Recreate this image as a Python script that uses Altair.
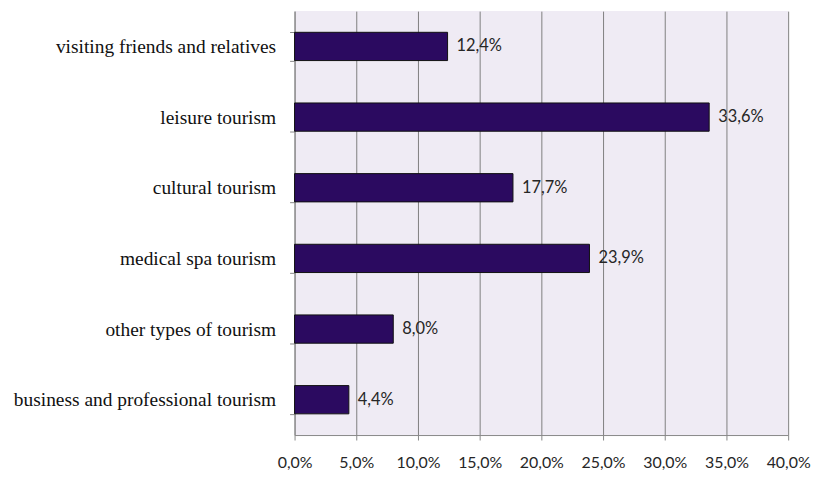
import altair as alt
import pandas as pd

categories = [
    "visiting friends and relatives",
    "leisure tourism",
    "cultural tourism",
    "medical spa tourism",
    "other types of tourism",
    "business and professional tourism",
]
values = [0.124, 0.336, 0.177, 0.239, 0.080, 0.044]
labels = ["12,4%", "33,6%", "17,7%", "23,9%", "8,0%", "4,4%"]

df = pd.DataFrame({"category": categories, "value": values, "label": labels})

x = alt.X(
    "value:Q",
    scale=alt.Scale(domain=[0, 0.4], nice=False),
    axis=alt.Axis(
        title=None,
        values=[0, 0.05, 0.1, 0.15, 0.2, 0.25, 0.3, 0.35, 0.4],
        labelExpr="replace(format(datum.value, '.1%'), '.', ',')",
        labelFont="Lato",
        labelFontSize=16,
        labelColor="#262626",
        labelPadding=15,
        labelOverlap=False,
        labelFlush=False,
        labelBound=False,
        tickSize=5,
        tickColor="#888888",
        domainColor="#888888",
        grid=True,
        gridColor="#7f7f7f",
        gridWidth=1,
    ),
)
y = alt.Y(
    "category:N",
    sort=categories,
    scale=alt.Scale(paddingInner=0.6, paddingOuter=0.3),
    axis=alt.Axis(
        title=None,
        labelFont="Liberation Serif",
        labelFontSize=19.5,
        labelColor="#111111",
        labelPadding=14,
        labelLimit=400,
        tickBand="extent",
        tickSize=5,
        tickColor="#888888",
        domainColor="#888888",
        grid=False,
    ),
)

bars = alt.Chart(df).mark_bar(color="#2B0A60", stroke="#111111", strokeWidth=1).encode(x=x, y=y)
text = alt.Chart(df).mark_text(
    align="left", baseline="middle", dx=9, font="Lato", fontSize=16.5, color="#262626"
).encode(x="value:Q", y=alt.Y("category:N", sort=categories), text="label:N")

chart = (
    alt.layer(bars, text)
    .properties(
        width=496,
        height=426,
        autosize=alt.AutoSizeParams(type="none"),
        padding={"left": 296, "top": 10, "right": 30, "bottom": 41},
        background="white",
    )
    .configure_view(fill="#EFEBF4", stroke=None)
)

chart.save("out.html", embed_options={"renderer": "svg", "actions": False})
